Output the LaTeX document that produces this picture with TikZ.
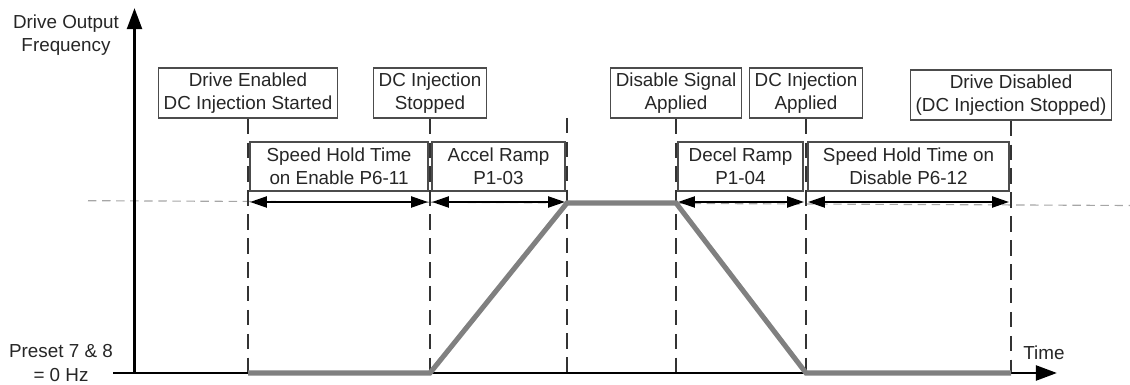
\documentclass[tikz,border=0pt]{standalone}
\usepackage{fontspec}
\setmainfont{Liberation Sans}
\usetikzlibrary{arrows.meta}

\tikzset{
	event/.style={draw=black!70, line width=0.9pt, fill=white, align=center, inner xsep=3.5pt, minimum height=1.25cm},
	phase/.style={draw=black!70, line width=0.9pt, fill=white, align=center, minimum height=1.225cm},
	guide/.style={black!80, line width=0.9pt, dash pattern=on 11pt off 6pt},
	dimline/.style={line width=1.1pt, shorten >=1.5pt, shorten <=1.5pt},
	axis/.style={line width=2.1pt},
	profile/.style={black!50, line width=3.6pt},
	level/.style={black!35, line width=0.8pt, dash pattern=on 6pt off 4pt},
	axistext/.style={align=center, text=black!85}
}

\begin{document}
\begin{tikzpicture}[x=0.025cm, y=-0.025cm, >={Triangle[length=12pt, width=8pt]},
	font=\fontsize{13.4}{16.4}\selectfont, text=black!85]

\useasboundingbox (0,0) rectangle (1130,385);

% Event times on the time axis
\foreach \n/\x in {1/248, 2/430, 3/567, 4/676, 5/806, 6/1011} {
	\coordinate (t\n) at (\x, 373);
	\coordinate (d\n) at (\x, 202);
}
\coordinate (g3) at (567, 118);
\coordinate (top3) at (567, 203);
\coordinate (top4) at (676, 203);

% Frequency level
\coordinate (lvlL) at (88, 200.7);
\coordinate (lvlR) at (1130, 205.5);
\draw[level] (lvlL) -- (lvlR);

% Event boxes
\node[event] (enabled) at (248, 93) {Drive Enabled\\DC Injection Started};
\node[event] (stopped) at (430, 93) {DC Injection\\Stopped};
\node[event] (disable) at (676, 93) {Disable Signal\\Applied};
\node[event] (applied) at (806, 93) {DC Injection\\Applied};
\node[event] (disabled) at (1011, 95) {Drive Disabled\\(DC Injection Stopped)};

\draw[guide] (enabled) -- (t1);
\draw[guide] (stopped) -- (t2);
\draw[guide] (g3) -- (t3);
\draw[guide] (disable) -- (t4);
\draw[guide] (applied) -- (t5);
\draw[guide] (disabled) -- (t6);

% Phase boxes and spans
\node[phase, minimum width=4.45cm] (holdon) at (339, 166.5) {Speed Hold Time\\on Enable P6-11};
\node[phase, minimum width=3.325cm] (accel) at (498.5, 166.5) {Accel Ramp\\P1-03};
\node[phase, minimum width=3.125cm] (decel) at (740.5, 166.5) {Decel Ramp\\P1-04};
\node[phase, minimum width=5.025cm] (holdoff) at (908.5, 166.5) {Speed Hold Time on\\Disable P6-12};

\draw[<->, dimline] (d1) -- (d2);
\draw[<->, dimline] (d2) -- (d3);
\draw[<->, dimline] (d4) -- (d5);
\draw[<->, dimline] (d5) -- (d6);

% Axes
\coordinate (xstart) at (113, 373);
\coordinate (xend) at (1057, 373);
\coordinate (ystart) at (134.5, 373);
\coordinate (yend) at (134.5, 8);
\draw[axis, -{Triangle[length=15pt, width=10.5pt]}] (xstart) -- (xend);
\draw[axis, -{Triangle[length=15pt, width=10.5pt]}] (ystart) -- (yend);

\node[axistext] (freq) at (66, 35) {Drive Output\\Frequency};
\node[axistext] (preset) at (61, 363) {Preset 7 \& 8\\= 0 Hz};
\node[axistext, anchor=base] (time) at (1044, 360) {Time};

% Output frequency
\draw[profile] (t1) -- (t2) -- (top3) -- (top4) -- (t5) -- (t6);

\end{tikzpicture}
\end{document}
